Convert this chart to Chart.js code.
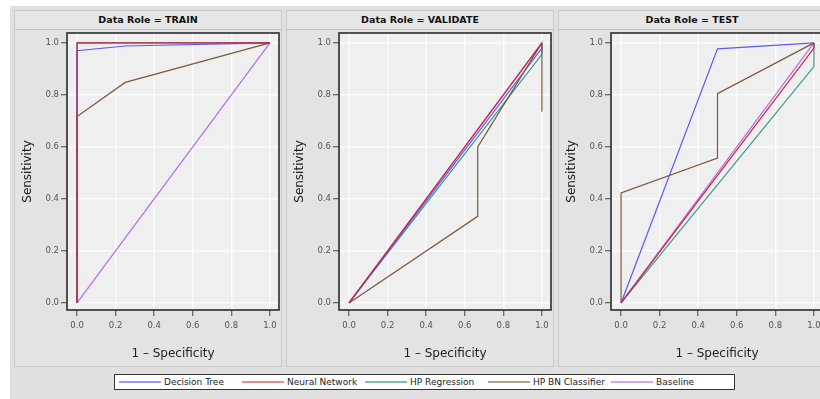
<!DOCTYPE html>
<html>
<head>
<meta charset="utf-8">
<script src="https://cdn.jsdelivr.net/npm/chart.js@4.4.1/dist/chart.umd.min.js"></script>
<style>
  html, body { margin:0; padding:0; background:#ffffff; width:820px; height:399px; overflow:hidden; }
  #bg { position:absolute; left:10px; top:6px; width:830px; height:400px; background:#e0e0e0; }
  .panel { position:absolute; top:10px; width:268px; height:357px; background:#e3e3e3; border:1px solid #c9c9c9; box-sizing:border-box; }
  .hdr { position:absolute; left:0; top:0; right:0; height:19px; background:#e6e6e6; border-bottom:1px solid #c4c4c4; box-sizing:border-box;
         font:bold 9.5px "DejaVu Sans", sans-serif; color:#111; text-align:center; line-height:18px; }
  .panel canvas { position:absolute; left:-1px; top:18px; }
  #legend { position:absolute; left:114px; top:374px; width:621px; height:16px; background:#fff; border:1px solid #333; box-sizing:border-box; }
  .li { position:absolute; top:0; height:14px; font:9px "DejaVu Sans", sans-serif; color:#222; line-height:14px; white-space:nowrap; }
  .li .sw { display:inline-block; width:42px; height:2px; vertical-align:middle; margin-right:3px; position:relative; top:-1px; }
</style>
</head>
<body>
<div id="bg"></div>
<div class="panel" style="left:14px"><div class="hdr">Data Role = TRAIN</div><canvas id="c0" width="268" height="338"></canvas></div>
<div class="panel" style="left:286px"><div class="hdr">Data Role = VALIDATE</div><canvas id="c1" width="268" height="338"></canvas></div>
<div class="panel" style="left:558px"><div class="hdr">Data Role = TEST</div><canvas id="c2" width="268" height="338"></canvas></div>
<div id="legend"></div>
<script>
// ---- Data (x = 1 - Specificity, y = Sensitivity) ----
const seriesNames  = ["Decision Tree", "Neural Network", "HP Regression", "HP BN Classifier", "Baseline"];
const seriesColors = ["#5b5bf2", "#d0203f", "#3a978c", "#7a5a3c", "#b370e3"];
const legendColors = ["#9a9aee", "#e09090", "#80bdb5", "#b5a08a", "#d4a6f2"];
const tickValues   = [0, 0.2, 0.4, 0.6, 0.8, 1.0];

const train_decisionTree   = [[0,0],[0,0.97],[0.25,0.988],[1,1]];
const train_neuralNetwork  = [[0,0],[0,1],[1,1]];
const train_hpRegression   = [[0,0],[0,1],[1,1]];
const train_hpBN           = [[0,0],[0,0.717],[0.25,0.848],[1,1]];
const train_baseline       = [[0,0],[1,1]];

const validate_decisionTree  = [[0,0],[1,0.98],[1,1]];
const validate_neuralNetwork = [[0,0],[1,1]];
const validate_hpRegression  = [[0,0],[1,0.956],[1,1]];
const validate_hpBN          = [[0,0],[0.667,0.333],[0.667,0.6],[1,1],[1,0.735]];
const validate_baseline      = [[0,0],[1,1]];

const test_decisionTree  = [[0,0],[0.5,0.977],[1,1]];
const test_neuralNetwork = [[0,0],[1,0.98],[1,1]];
const test_hpRegression  = [[0,0],[1,0.909],[1,1]];
const test_hpBN          = [[0,0],[0,0.423],[0.5,0.557],[0.5,0.805],[1,1]];
const test_baseline      = [[0,0],[1,1]];

const drawOrder = [3, 1, 4, 2, 5]; // lower = on top

const FONT = '"DejaVu Sans", sans-serif';

const framePlugin = {
  id: 'frame',
  beforeDraw(chart) {
    const {ctx, chartArea:a} = chart;
    ctx.save(); ctx.fillStyle = '#efefef';
    ctx.fillRect(a.left, a.top, a.right - a.left, a.bottom - a.top);
    ctx.restore();
  },
  afterDraw(chart) {
    const {ctx, chartArea:a} = chart;
    ctx.save(); ctx.strokeStyle = '#2b2b2b'; ctx.lineWidth = 1.6;
    ctx.strokeRect(a.left, a.top, a.right - a.left, a.bottom - a.top);
    ctx.restore();
  }
};

function axis(min, max, titleText, isX) {
  return {
    type: 'linear', min: min, max: max,
    afterBuildTicks: s => { s.ticks = tickValues.map(v => ({value: v})); },
    afterFit: s => {
      if (isX) { s.height = 57; s.paddingLeft = 0; s.paddingRight = 0; }
      else { s.width = 53; s.paddingTop = 0; s.paddingBottom = 0; }
    },
    border: { display: false },
    grid: { color: '#fcfcfc', lineWidth: 1.5, tickColor: '#444', tickLength: 6, tickWidth: 1, drawTicks: true },
    ticks: { color: '#555', font: { size: 8.5, family: FONT }, padding: isX ? 5 : 2, autoSkip: false, maxRotation: 0,
             callback: v => Number(v).toFixed(1) },
    title: { display: true, text: titleText, color: '#222', font: { size: 12, family: FONT },
             padding: isX ? { bottom: 6, top: 0 } : { top: 7, bottom: 0 } }
  };
}

function makeChart(id, seriesData) {
  new Chart(document.getElementById(id), {
    type: 'scatter',
    data: {
      datasets: seriesData.map((pts, i) => ({
        label: seriesNames[i],
        data: pts.map(p => ({x: p[0], y: p[1]})),
        showLine: true, borderColor: seriesColors[i], backgroundColor: seriesColors[i],
        borderWidth: 1.2, pointRadius: 0, fill: false, tension: 0, order: drawOrder[i]
      }))
    },
    options: {
      responsive: false, animation: false,
      layout: { padding: { top: 4, right: 3, left: 0, bottom: 0 } },
      plugins: { legend: { display: false }, tooltip: { enabled: false } },
      scales: {
        x: axis(-0.052, 1.047, '1 \u2013 Specificity', true),
        y: axis(-0.027, 1.038, 'Sensitivity', false)
      }
    },
    plugins: [framePlugin]
  });
}

makeChart('c0', [train_decisionTree, train_neuralNetwork, train_hpRegression, train_hpBN, train_baseline]);
makeChart('c1', [validate_decisionTree, validate_neuralNetwork, validate_hpRegression, validate_hpBN, validate_baseline]);
makeChart('c2', [test_decisionTree, test_neuralNetwork, test_hpRegression, test_hpBN, test_baseline]);

// legend
const lg = document.getElementById('legend');
seriesNames.forEach((n, i) => {
  const d = document.createElement('div');
  d.className = 'li';
  d.style.left = (4 + i * 123) + 'px';
  d.innerHTML = '<span class="sw" style="background:' + legendColors[i] + '"></span>' + n;
  lg.appendChild(d);
});
</script>
</body>
</html>
